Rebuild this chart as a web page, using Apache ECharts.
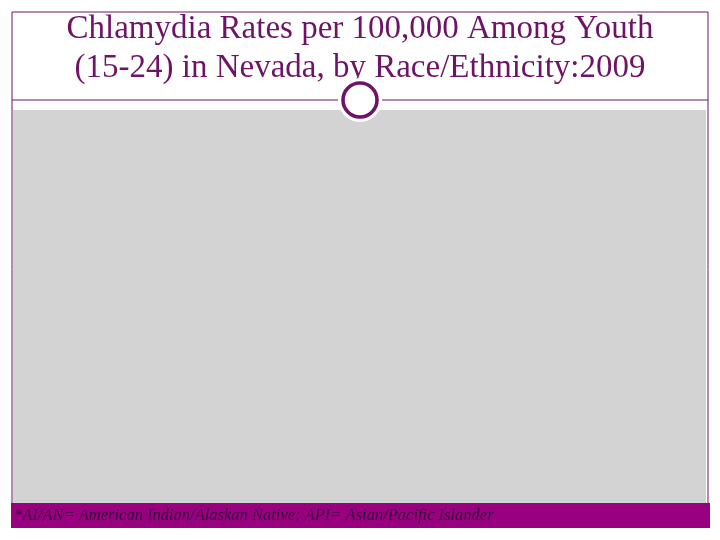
<!DOCTYPE html>
<html>
<head>
<meta charset="utf-8">
<script src="https://cdn.jsdelivr.net/npm/echarts@6/dist/echarts.min.js"></script>
<style>
html,body{margin:0;padding:0;background:#fff;}
#chart{width:720px;height:540px;}
</style>
</head>
<body>
<div id="chart"></div>
<script>
// Chart content (the plot area in the reference is empty)
const titleLines = ["Chlamydia Rates per 100,000 Among Youth", "(15-24) in Nevada, by Race/Ethnicity:2009"];
const footnote = "*AI/AN= American Indian/Alaskan Native; API= Asian/Pacific Islander";
const categories = [];
const rates = [];

const purple = '#6e1466';
const chart = echarts.init(document.getElementById('chart'));
chart.setOption({
  backgroundColor: '#ffffff',
  animation: false,
  title: {
    text: titleLines.join('\n'),
    left: 'center',
    top: 5,
    textStyle: {
      fontFamily: 'Liberation Serif',
      fontWeight: 'normal',
      fontSize: 33,
      lineHeight: 39,
      color: purple
    }
  },
  grid: {
    left: 13, right: 14, top: 110, bottom: 37,
    show: true, backgroundColor: '#d3d3d3', borderWidth: 0
  },
  xAxis: { type: 'category', data: categories, show: false },
  yAxis: { type: 'value', show: false },
  series: [{ type: 'bar', data: rates }],
  graphic: [
    { type: 'rect', shape: { x: 12, y: 12, width: 696, height: 515 }, style: { fill: 'none', stroke: purple, lineWidth: 1 }, z: 10 },
    { type: 'line', shape: { x1: 12, y1: 100, x2: 338, y2: 100 }, style: { stroke: purple, lineWidth: 1 }, z: 10 },
    { type: 'line', shape: { x1: 382, y1: 100, x2: 708, y2: 100 }, style: { stroke: purple, lineWidth: 1 }, z: 10 },
    { type: 'circle', shape: { cx: 360, cy: 100, r: 22 }, style: { fill: '#ffffff' }, z: 11 },
    { type: 'circle', shape: { cx: 360, cy: 100, r: 17 }, style: { fill: '#ffffff', stroke: purple, lineWidth: 3.6 }, z: 12 },
    { type: 'rect', shape: { x: 11, y: 503, width: 699, height: 25 }, style: { fill: '#990080' }, z: 10 },
    { type: 'text', x: 14, y: 516, style: { text: footnote, fontFamily: 'Liberation Serif', fontStyle: 'italic', fontSize: 16.5, fill: '#3a0a3a', verticalAlign: 'middle' }, z: 12 }
  ]
});
</script>
</body>
</html>
